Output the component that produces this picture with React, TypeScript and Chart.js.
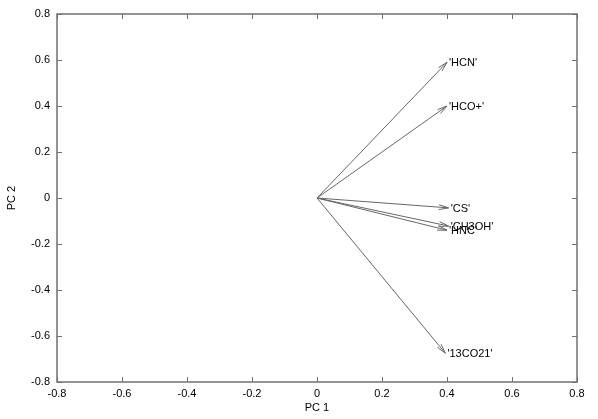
import React, { useEffect, useRef } from 'react';
import { Chart, registerables } from 'chart.js';
Chart.register(...registerables);

const labels = ["'HCN'", "'HCO+'", "'CS'", "'CH3OH'", "'HNC'", "'13CO21'"];
const pc1 = [0.40, 0.40, 0.405, 0.405, 0.40, 0.395];
const pc2 = [0.59, 0.40, -0.043, -0.122, -0.14, -0.675];
const axisMin = -0.8;
const axisMax = 0.8;
const axisStep = 0.2;

const FONT = '"Liberation Sans", Arial, Helvetica, sans-serif';
const LINE = '#666666';
const FRAME = '#707070';

const fmt = (v: number) => {
  const r = Math.round(v * 10) / 10;
  return r === 0 ? '0' : r.toFixed(1);
};

const arrowPlugin = {
  id: 'arrowsAndLabels',
  afterDatasetsDraw(chart: any) {
    const ctx = chart.ctx;
    ctx.save();
    chart.data.datasets.forEach((ds: any, i: number) => {
      const meta = chart.getDatasetMeta(i);
      const p0 = meta.data[0];
      const p1 = meta.data[1];
      const ang = Math.atan2(p1.y - p0.y, p1.x - p0.x);
      const L = 10;
      const a = Math.PI / 13;
      ctx.strokeStyle = LINE;
      ctx.lineWidth = 1;
      ctx.beginPath();
      ctx.moveTo(p1.x - L * Math.cos(ang - a), p1.y - L * Math.sin(ang - a));
      ctx.lineTo(p1.x, p1.y);
      ctx.lineTo(p1.x - L * Math.cos(ang + a), p1.y - L * Math.sin(ang + a));
      ctx.stroke();
      ctx.fillStyle = '#000';
      ctx.font = '11px ' + FONT;
      ctx.textAlign = 'left';
      ctx.textBaseline = 'middle';
      ctx.fillText(ds.label, p1.x + 2, p1.y + 1);
    });
    ctx.restore();
  },
};

const framePlugin = {
  id: 'frame',
  afterDraw(chart: any) {
    const { ctx, chartArea } = chart;
    const { left, right, top, bottom } = chartArea;
    const xs = chart.scales.x;
    const ys = chart.scales.y;
    const T = 5;
    ctx.save();
    ctx.strokeStyle = FRAME;
    ctx.lineWidth = 1;
    ctx.beginPath();
    xs.ticks.forEach((t: any) => {
      const x = Math.round(xs.getPixelForValue(t.value)) + 0.5;
      ctx.moveTo(x, bottom);
      ctx.lineTo(x, bottom - T);
      ctx.moveTo(x, top);
      ctx.lineTo(x, top + T);
    });
    ys.ticks.forEach((t: any) => {
      const y = Math.round(ys.getPixelForValue(t.value)) + 0.5;
      ctx.moveTo(left, y);
      ctx.lineTo(left + T, y);
      ctx.moveTo(right, y);
      ctx.lineTo(right - T, y);
    });
    ctx.stroke();
    ctx.lineWidth = 1.5;
    ctx.strokeRect(left, top, right - left, bottom - top);
    ctx.restore();
  },
};

export default function App() {
  const ref = useRef<HTMLCanvasElement>(null);
  useEffect(() => {
    document.body.style.margin = '0';
    const datasets = labels.map((lab, i) => ({
      label: lab,
      data: [
        { x: 0, y: 0 },
        { x: pc1[i], y: pc2[i] },
      ],
      showLine: true,
      borderColor: LINE,
      borderWidth: 1,
      pointRadius: 0,
      fill: false,
    }));
    const chart = new Chart(ref.current as HTMLCanvasElement, {
      type: 'scatter',
      data: { datasets },
      plugins: [arrowPlugin, framePlugin],
      options: {
        animation: false,
        responsive: false,
        devicePixelRatio: 1,
        layout: { padding: { top: 14, right: 21, left: 0, bottom: 0 } },
        plugins: {
          legend: { display: false },
          tooltip: { enabled: false },
        },
        scales: {
          x: {
            type: 'linear',
            min: axisMin,
            max: axisMax,
            afterFit: (s: any) => {
              s.height = 37;
            },
            grid: { display: false, drawTicks: false },
            border: { display: false },
            ticks: {
              stepSize: axisStep,
              padding: 5,
              color: '#000',
              font: { family: FONT, size: 11 },
              callback: (v: any) => fmt(Number(v)),
              maxRotation: 0,
              autoSkip: false,
            },
            title: {
              display: true,
              text: 'PC 1',
              color: '#000',
              font: { family: FONT, size: 11 },
              padding: { top: 0, bottom: 4 },
            },
          },
          y: {
            type: 'linear',
            min: axisMin,
            max: axisMax,
            afterFit: (s: any) => {
              s.width = 57;
            },
            grid: { display: false, drawTicks: false },
            border: { display: false },
            ticks: {
              stepSize: axisStep,
              padding: 7,
              color: '#000',
              font: { family: FONT, size: 11 },
              callback: (v: any) => fmt(Number(v)),
              autoSkip: false,
            },
            title: {
              display: true,
              text: 'PC 2',
              color: '#000',
              font: { family: FONT, size: 11 },
              padding: { top: 5, bottom: 0 },
            },
          },
        },
      },
    } as any);
    return () => chart.destroy();
  }, []);
  return (
    <div style={{ width: 598, height: 419 }}>
      <canvas ref={ref} width={598} height={419} style={{ display: 'block' }} />
    </div>
  );
}
